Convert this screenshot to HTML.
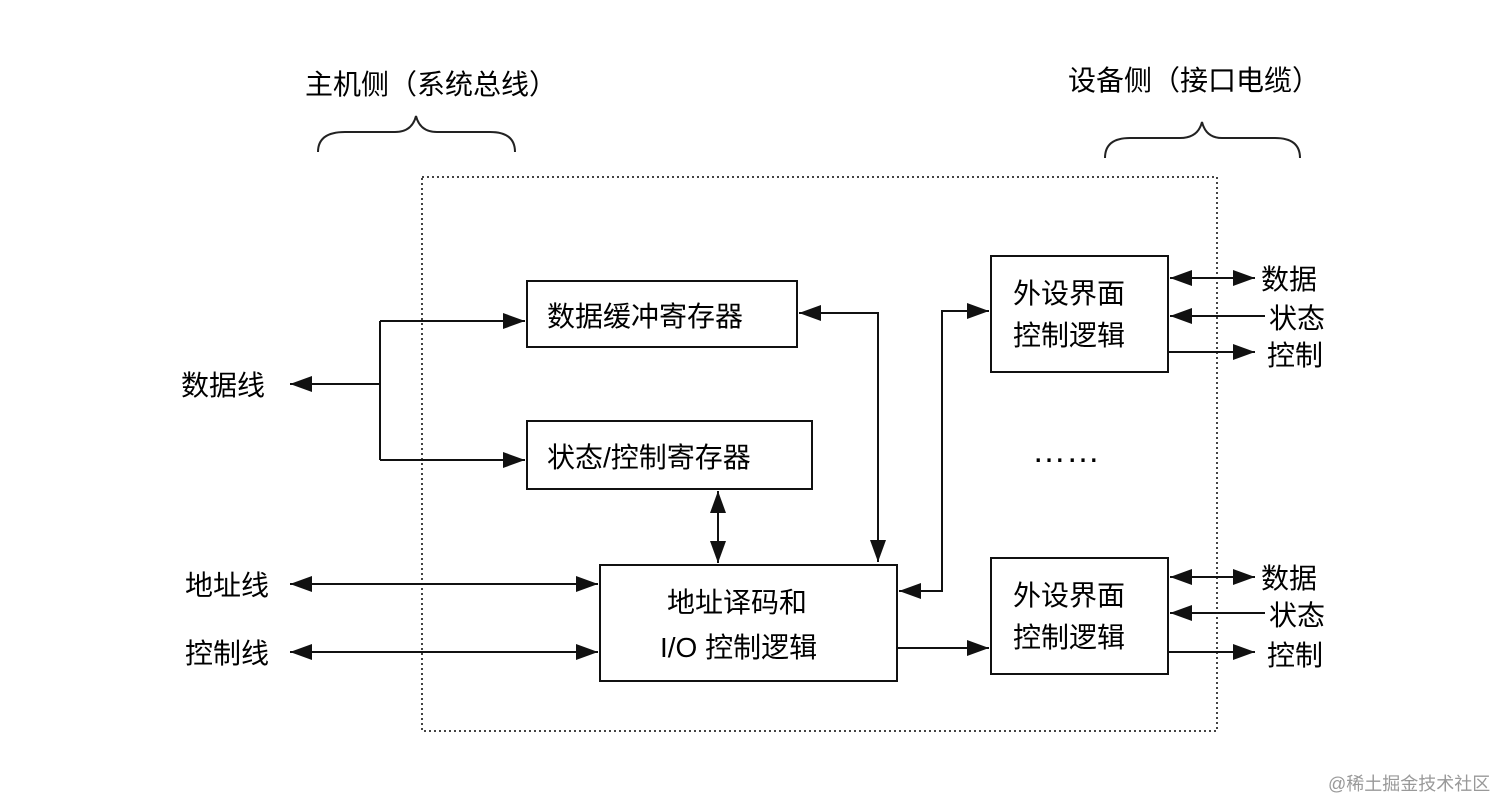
<!DOCTYPE html>
<html><head><meta charset="utf-8"><style>
html,body{margin:0;padding:0;background:#fff;}
svg{display:block;}
text{font-family:"Liberation Sans","Noto Sans CJK SC",sans-serif;fill:#000;}
</style></head><body>
<svg width="1494" height="800" viewBox="0 0 1494 800" xmlns="http://www.w3.org/2000/svg">
<defs>
<marker id="b" viewBox="0 0 22 16" refX="22" refY="8" markerWidth="22" markerHeight="16" markerUnits="userSpaceOnUse" orient="auto-start-reverse">
<path d="M0,0 L22,8 L0,16 z" fill="#111"/></marker>
</defs>
<g font-size="28">
<text x="305" y="94">主机侧（系统总线）</text>
<text x="1068" y="90">设备侧（接口电缆）</text>
</g>
<g fill="none" stroke="#222" stroke-width="2">
<path d="M318,152 Q318,132 345,132 L395,132 Q412,132 416,116 Q420,132 437,132 L490,132 Q515,132 515,152"/>
<path d="M1105,158 Q1105,138 1130,138 L1180,138 Q1198,138 1202,122 Q1206,138 1222,138 L1275,138 Q1300,138 1300,158"/>
</g>
<rect x="422" y="177" width="795" height="554" fill="none" stroke="#444" stroke-width="2" stroke-dasharray="2,3"/>
<g fill="#fff" stroke="#111" stroke-width="2">
<rect x="527" y="281" width="270" height="66"/>
<rect x="527" y="421" width="285" height="68"/>
<rect x="600" y="565" width="297" height="116"/>
<rect x="991" y="256" width="177" height="116"/>
<rect x="991" y="558" width="177" height="116"/>
</g>
<g font-size="28">
<text x="547" y="326">数据缓冲寄存器</text>
<text x="547" y="467">状态/控制寄存器</text>
<text x="667" y="612">地址译码和</text>
<text x="660" y="657">I/O 控制逻辑</text>
<text x="1013" y="303">外设界面</text>
<text x="1013" y="345">控制逻辑</text>
<text x="1013" y="605">外设界面</text>
<text x="1013" y="647">控制逻辑</text>
<text x="181" y="395">数据线</text>
<text x="185" y="595">地址线</text>
<text x="185" y="663">控制线</text>
<text x="1261" y="289">数据</text>
<text x="1269" y="328">状态</text>
<text x="1267" y="365">控制</text>
<text x="1261" y="588">数据</text>
<text x="1269" y="625">状态</text>
<text x="1267" y="665">控制</text>
</g>
<text x="1032" y="462" font-size="34">……</text>
<g fill="none" stroke="#111" stroke-width="2">
<line x1="380" y1="384" x2="290" y2="384" marker-end="url(#b)"/>
<line x1="380" y1="321" x2="380" y2="460"/>
<line x1="380" y1="321" x2="525" y2="321" marker-end="url(#b)"/>
<line x1="380" y1="460" x2="525" y2="460" marker-end="url(#b)"/>
<path d="M799,313 L878,313 L878,562" marker-start="url(#b)" marker-end="url(#b)"/>
<line x1="718" y1="491" x2="718" y2="563" marker-start="url(#b)" marker-end="url(#b)"/>
<line x1="290" y1="584" x2="598" y2="584" marker-start="url(#b)" marker-end="url(#b)"/>
<line x1="290" y1="652" x2="598" y2="652" marker-start="url(#b)" marker-end="url(#b)"/>
<path d="M899,591 L942,591 L942,311 L989,311" marker-start="url(#b)" marker-end="url(#b)"/>
<line x1="897" y1="648" x2="989" y2="648" marker-end="url(#b)"/>
<line x1="1170" y1="278" x2="1255" y2="278" marker-start="url(#b)" marker-end="url(#b)"/>
<line x1="1265" y1="316" x2="1170" y2="316" marker-end="url(#b)"/>
<line x1="1168" y1="352" x2="1255" y2="352" marker-end="url(#b)"/>
<line x1="1170" y1="577" x2="1255" y2="577" marker-start="url(#b)" marker-end="url(#b)"/>
<line x1="1265" y1="613" x2="1170" y2="613" marker-end="url(#b)"/>
<line x1="1168" y1="652" x2="1255" y2="652" marker-end="url(#b)"/>
</g>
<text x="1328" y="790" font-size="18" style="fill:#999">@稀土掘金技术社区</text>
</svg>
</body></html>
